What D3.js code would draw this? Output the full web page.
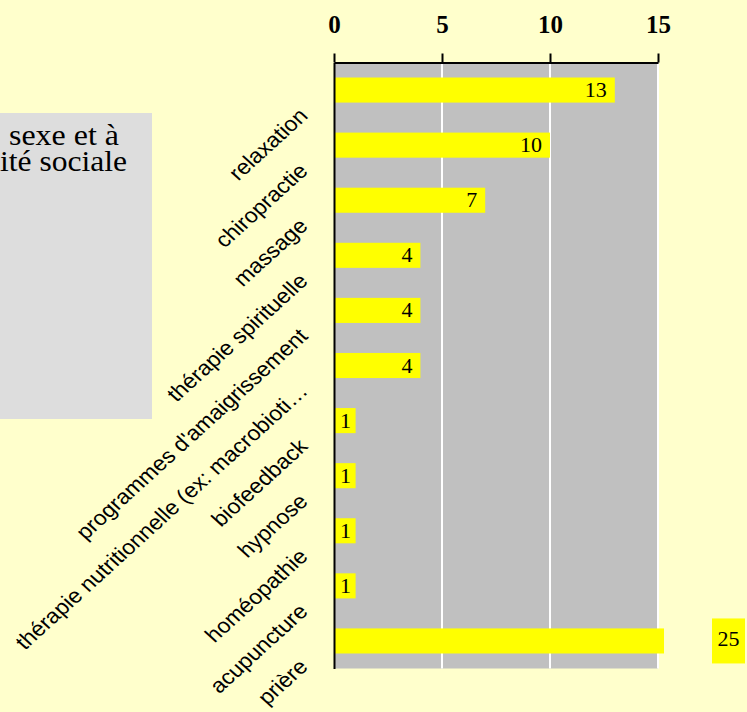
<!DOCTYPE html>
<html>
<head>
<meta charset="utf-8">
<script src="https://cdn.jsdelivr.net/npm/d3@7"></script>
<style>
    body { margin: 0; background: #ffffcc; }
</style>
</head>
<body>
<div id="chart"></div>
<script>
const categories = ["relaxation", "chiropractie", "massage", "thérapie spirituelle",
    "programmes d'amaigrissement", "thérapie nutritionnelle (ex: macrobioti…",
    "biofeedback", "hypnose", "homéopathie", "acupuncture", "prière"];
const values = [13, 10, 7, 4, 4, 4, 1, 1, 1, 1, 25];
const tickValues = [0, 5, 10, 15];
const titleLines = ["sexe et à", "ité sociale"];

const data = categories.map((c, i) => ({ cat: c, value: values[i] }));

Bars = function(_parentElement, _data) {
    this.parentElement = _parentElement;
    this.data = _data;
    this.initVis();
};

Bars.prototype.initVis = function() {
    var vis = this;

    vis.width = 747;
    vis.height = 712;

    vis.svg = d3.select("#" + vis.parentElement)
        .append("svg")
        .attr("width", vis.width)
        .attr("height", vis.height)
        .style("display", "block");

    vis.svg.append("rect")
        .attr("width", vis.width)
        .attr("height", vis.height)
        .attr("fill", "#ffffcc");

    // title box (mostly cut off on the left)
    vis.svg.append("rect")
        .attr("x", 0).attr("y", 113)
        .attr("width", 152).attr("height", 306)
        .attr("fill", "#dddddd");

    vis.svg.selectAll(".title")
        .data(titleLines)
        .enter()
        .append("text")
        .attr("class", "title")
        .attr("x", (d, i) => i == 0 ? 9 : 0)
        .attr("y", (d, i) => 145 + i * 26)
        .attr("textLength", (d, i) => i == 0 ? 110 : 127)
        .attr("lengthAdjust", "spacingAndGlyphs")
        .attr("font-family", "Liberation Serif, Times New Roman, serif")
        .attr("font-size", "29px")
        .attr("fill", "#000")
        .text(d => d);

    vis.x = d3.scaleLinear()
        .domain([0, 15])
        .range([334, 658]);

    vis.y = d3.scaleBand()
        .domain(categories)
        .range([62.5, 668.5])
        .paddingInner(0.545)
        .paddingOuter(0.2725);

    vis.updateVis();
};

Bars.prototype.updateVis = function() {
    var vis = this;
    const x = vis.x, y = vis.y;
    const xMax = x.domain()[1];
    const top = y.range()[0], bottom = y.range()[1];

    // plot area
    vis.svg.append("rect")
        .attr("x", x(0))
        .attr("y", top)
        .attr("width", x(xMax) - x(0))
        .attr("height", bottom - top)
        .attr("fill", "#c0c0c0");

    // gridlines
    vis.svg.selectAll(".grid")
        .data(tickValues.slice(1))
        .enter()
        .append("line")
        .attr("class", "grid")
        .attr("x1", d => x(d)).attr("x2", d => x(d))
        .attr("y1", top).attr("y2", bottom)
        .attr("stroke", "#fff")
        .attr("stroke-width", 2);

    // bars
    vis.svg.selectAll(".bar")
        .data(vis.data)
        .enter()
        .append("rect")
        .attr("class", "bar")
        .attr("x", x(0) + 1)
        .attr("y", d => y(d.cat))
        .attr("height", y.bandwidth())
        .attr("width", d => Math.min(x(d.value), x(xMax) + 6) - x(0) - 1)
        .attr("fill", "#ffff00");

    // top axis
    const xAxis = d3.axisTop(x)
        .tickValues(tickValues)
        .tickSize(9)
        .tickSizeOuter(0)
        .tickPadding(21);

    const gx = vis.svg.append("g")
        .attr("transform", `translate(0,${top})`)
        .call(xAxis);
    gx.select(".domain").attr("stroke", "#000").attr("stroke-width", 2);
    gx.selectAll(".tick line").attr("stroke", "#000").attr("stroke-width", 2);
    gx.selectAll(".tick text")
        .attr("font-family", "Liberation Serif, Times New Roman, serif")
        .attr("font-size", "25px")
        .attr("font-weight", "bold")
        .attr("fill", "#000");

    // left axis, labels rotated 45deg then stretched a bit sideways (slanted look)
    const yAxis = d3.axisLeft(y)
        .tickSize(0)
        .tickSizeOuter(0);

    const gy = vis.svg.append("g")
        .attr("transform", `translate(${x(0)},0)`)
        .call(yAxis);
    gy.select(".domain").attr("stroke", "#000").attr("stroke-width", 2);
    gy.selectAll(".tick text")
        .attr("x", 0)
        .attr("dy", null)
        .attr("text-anchor", "end")
        .attr("transform", "translate(-25,27) scale(1.1,1) rotate(-45)")
        .attr("font-family", "Liberation Sans, Arial, sans-serif")
        .attr("font-size", "21px")
        .attr("fill", "#000");

    // value labels
    const inside = vis.data.filter(d => d.value <= xMax);
    const outside = vis.data.filter(d => d.value > xMax);

    vis.svg.selectAll(".count")
        .data(inside)
        .enter()
        .append("text")
        .attr("class", "count")
        .attr("y", d => y(d.cat) + y.bandwidth() / 2 + 7)
        .attr("text-anchor", "end")
        .attr("font-family", "Liberation Serif, Times New Roman, serif")
        .attr("font-size", "22px")
        .attr("fill", "#000")
        .text(d => d.value)
        .attr("x", function(d) {
            const w = this.getComputedTextLength();
            return Math.max(x(d.value) - 8, x(0) + 6 + w);
        });

    vis.svg.selectAll(".countBox")
        .data(outside)
        .enter()
        .append("rect")
        .attr("class", "countBox")
        .attr("x", x(xMax) + 54)
        .attr("y", d => y(d.cat) + y.bandwidth() / 2 - 22.5)
        .attr("width", 33)
        .attr("height", 45)
        .attr("fill", "#ffff00");

    vis.svg.selectAll(".countOut")
        .data(outside)
        .enter()
        .append("text")
        .attr("class", "countOut")
        .attr("x", x(xMax) + 54 + 16.5)
        .attr("y", d => y(d.cat) + y.bandwidth() / 2 + 5)
        .attr("text-anchor", "middle")
        .attr("font-family", "Liberation Serif, Times New Roman, serif")
        .attr("font-size", "22px")
        .attr("fill", "#000")
        .text(d => d.value);
};

new Bars("chart", data);
</script>
</body>
</html>
